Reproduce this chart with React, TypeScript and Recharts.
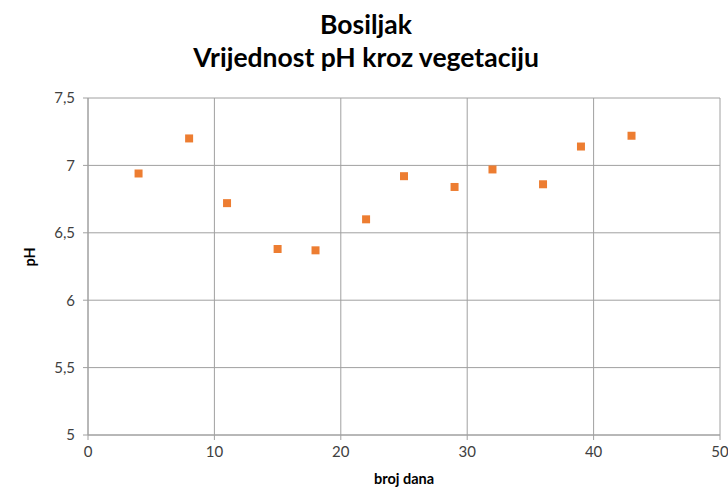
import { ScatterChart, Scatter, XAxis, YAxis, CartesianGrid } from 'recharts';

// broj dana (days) and measured pH
const days = [4, 8, 11, 15, 18, 22, 25, 29, 32, 36, 39, 43];
const phValues = [6.94, 7.2, 6.72, 6.38, 6.37, 6.6, 6.92, 6.84, 6.97, 6.86, 7.14, 7.22];

const xTicks = [0, 10, 20, 30, 40, 50];
const yTicks = [5, 5.5, 6, 6.5, 7, 7.5];

const GRID = '#a0a0a0';
const ORANGE = '#ED7D31';
const FONT = 'Lato, "Open Sans", sans-serif';

const points = days.map((d, i) => ({ x: d, y: phValues[i] }));

const comma = (v: number) => String(v).replace('.', ',');

export default function App() {
    return (
        <div style={{ position: 'absolute', left: 0, top: 0, width: 728, height: 488, background: '#fff', fontFamily: FONT }}>
            <div style={{ position: 'absolute', top: 8, left: 0, width: 732, textAlign: 'center', fontSize: 26.5, fontWeight: 700, lineHeight: '33px', color: '#000' }}>
                Bosiljak
                <br />
                Vrijednost pH kroz vegetaciju
            </div>
            <ScatterChart width={728} height={488} margin={{ top: 98, right: 8, bottom: 13, left: 0 }}>
                <CartesianGrid stroke={GRID} strokeWidth={1} />
                <XAxis
                    type="number"
                    dataKey="x"
                    domain={[0, 50]}
                    ticks={xTicks}
                    height={40}
                    stroke={GRID}
                    tickSize={5}
                    tickMargin={6}
                    tick={{ fill: '#404040', fontSize: 15, fontFamily: FONT }}
                    label={{ value: 'broj dana', position: 'insideBottom', offset: -9, fill: '#000', fontSize: 14.5, fontWeight: 700, fontFamily: FONT }}
                />
                <YAxis
                    type="number"
                    dataKey="y"
                    domain={[5, 7.5]}
                    ticks={yTicks}
                    width={88}
                    stroke={GRID}
                    tickSize={5}
                    tickMargin={8}
                    tickFormatter={comma}
                    tick={{ fill: '#404040', fontSize: 15, fontFamily: FONT }}
                    label={{ value: 'pH', angle: -90, position: 'insideLeft', offset: 30, fill: '#000', fontSize: 14.5, fontWeight: 700, fontFamily: FONT }}
                />
                <Scatter data={points} fill={ORANGE} shape="square" isAnimationActive={false} />
            </ScatterChart>
        </div>
    );
}
